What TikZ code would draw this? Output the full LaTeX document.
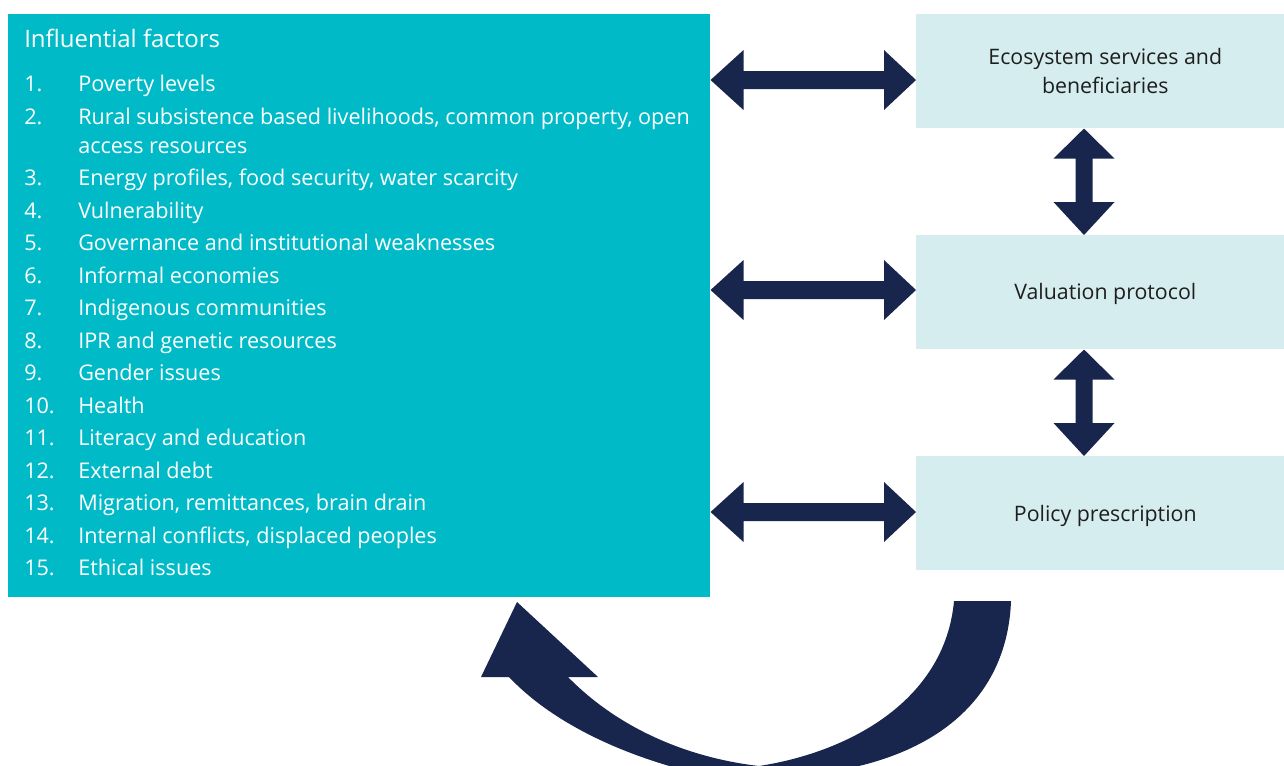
\documentclass[tikz,border=0pt]{standalone}
\usepackage{fontspec}
\setmainfont{Open Sans}
\usetikzlibrary{calc}
\definecolor{tealbox}{RGB}{0,187,199}
\definecolor{lightbox}{RGB}{213,237,238}
\definecolor{navy}{RGB}{24,38,77}
\definecolor{txt}{RGB}{30,30,30}
\newcommand\harr[3]{%
  \coordinate (hy) at (0,#3);
  \coordinate (hA) at (#1.east |- hy);
  \coordinate (hB) at (#2.west |- hy);
  \fill[arrowfill] (hA) -- ++(33,-30) -- ++(0,21) -- ($(hB)+(-32,-9)$) -- ++(0,-21) -- (hB)
    -- ++(-32,30) -- ++(0,-21) -- ($(hA)+(33,9)$) -- ++(0,21) -- cycle;}
\newcommand\varr[2]{%
  \coordinate (vx) at (1084,0);
  \coordinate (vA) at (#1.south -| vx);
  \coordinate (vB) at (#2.north -| vx);
  \fill[arrowfill] (vA) -- ++(30.5,30) -- ++(-22,0) -- ($(vB)+(8.5,-33)$) -- ++(22,0) -- (vB)
    -- ++(-30.5,-33) -- ++(22,0) -- ($(vA)+(-8.5,30)$) -- ++(-22,0) -- cycle;}
\begin{document}
\begin{tikzpicture}[x=0.75pt,y=-0.75pt,
  arrowfill/.style={fill=navy},
  tealstyle/.style={fill=tealbox,draw=none,inner sep=0,anchor=north west},
  lightstyle/.style={fill=lightbox,draw=none,inner sep=0,anchor=north west,minimum width=276pt,minimum height=85.5pt},
  boxtext/.style={inner sep=0,text=txt,align=center,font=\fontsize{16pt}{21.75pt}\selectfont},
  num/.style={anchor=base west,inner sep=0,text=white,font=\fontsize{16.2pt}{20pt}\selectfont},
  item/.style={anchor=base west,inner sep=0,text=white,font=\fontsize{16.2pt}{20pt}\selectfont},
  ]
\clip (0,0) rectangle (1284,765);
\useasboundingbox (0,0) rectangle (1284,765);
\fill[white] (0,0) rectangle (1284,765);
\node[tealstyle,minimum width=526.5pt,minimum height=437.25pt] (teal) at (8,14) {};
\node[lightstyle] (eco) at (916,14) {};
\node[lightstyle] (val) at (916,235) {};
\node[lightstyle] (pol) at (916,456) {};
\node[boxtext] (ecot) at ($(eco.center)+(5,0)$) {Ecosystem services and\\beneficiaries};
\node[boxtext] (valt) at ($(val.center)+(5,1.5)$) {Valuation protocol};
\node[boxtext] (polt) at ($(pol.center)+(5,2.5)$) {Policy prescription};

\node[item,font=\fontsize{18pt}{20pt}\selectfont] (title) at (24,47) {Influential factors};
\foreach \n/\y/\t in {
  1/91/Poverty levels,
  2/124/{Rural subsistence based livelihoods, common property, open},
  3/185/{Energy profiles, food security, water scarcity},
  4/218/Vulnerability,
  5/250/Governance and institutional weaknesses,
  6/283/Informal economies,
  7/315.5/Indigenous communities,
  8/348/IPR and genetic resources,
  9/380.5/Gender issues,
  10/413/Health,
  11/445.5/Literacy and education,
  12/478/External debt,
  13/510.5/{Migration, remittances, brain drain},
  14/543/{Internal conflicts, displaced peoples},
  15/575.5/Ethical issues}{
  \node[num] (n\n) at (24,\y) {\n.};
  \node[item] (t\n) at (78,\y) {\t};
}
\node[item] (t2b) at (78,153) {access resources};

\harr{teal}{eco}{80}
\harr{teal}{val}{290}
\harr{teal}{pol}{512}
\varr{eco}{val}
\varr{val}{pol}

\fill[arrowfill] (1011,601) .. controls (1008,680) and (960,740) .. (863,765)
  .. controls (820,776) and (700,776) .. (666,765)
  .. controls (600,745) and (545,715) .. (509,677)
  -- (481,677) -- (517,602) -- (598,677) -- (568,677)
  .. controls (620,730) and (690,758) .. (759,766)
  .. controls (850,752) and (945,700) .. (954,601) -- cycle;
\end{tikzpicture}
\end{document}
